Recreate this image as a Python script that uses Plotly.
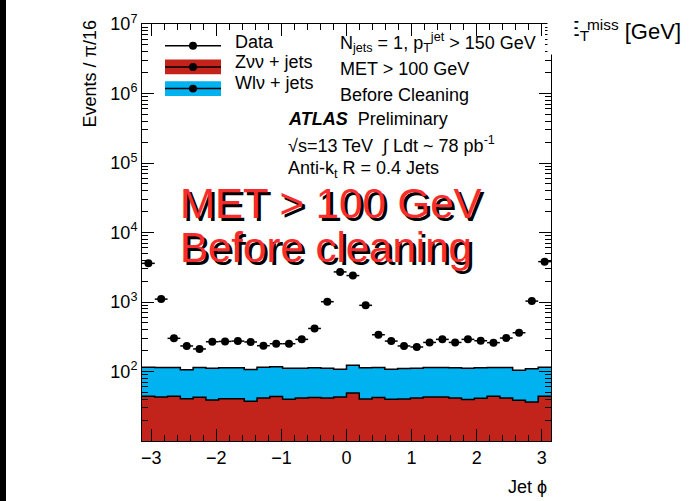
import numpy as np
import plotly.graph_objects as go

# ---------------- data ----------------
n_bins = 32
data_counts = [3600, 1100, 300, 233, 211, 268, 271, 274, 266, 235, 251, 251, 290, 416,
               1010, 2710, 2400, 896, 338, 274, 233, 225, 262, 290, 262, 290, 277, 260,
               303, 361, 1030, 3810]
znn_jets = [43.9, 43.0, 43.9, 40.7, 42.5, 38.9, 40.7, 40.7, 37.3, 41.6, 43.5, 39.8, 41.6,
            42.1, 41.6, 43.0, 49.0, 40.3, 42.1, 39.8, 40.3, 41.6, 43.0, 43.0, 41.6, 39.4,
            41.1, 43.9, 41.6, 38.5, 36.5, 43.9]
wlnu_jets = [71.4, 71.0, 70.1, 64.9, 71.5, 72.7, 72.1, 72.1, 69.5, 73.7, 73.1, 71.8, 70.0,
             70.7, 70.0, 65.0, 74.2, 72.5, 71.9, 68.2, 70.1, 70.0, 71.0, 71.0, 71.2, 72.2,
             71.7, 70.1, 72.4, 66.0, 72.7, 71.4]
y_tick_powers = [2, 3, 4, 5, 6, 7]
x_tick_vals = [-3, -2, -1, 0, 1, 2, 3]

# ---------------- derived ----------------
edges = np.linspace(-np.pi, np.pi, n_bins + 1)
centers = 0.5 * (edges[:-1] + edges[1:])
half_w = (edges[1] - edges[0]) / 2
znn = np.array(znn_jets)
total = znn + np.array(wlnu_jets)
dat = np.array(data_counts, dtype=float)

RED = "#c2241b"
BLUE = "#00b2ef"
FONT = "Liberation Sans, Arial, Helvetica, sans-serif"

fig = go.Figure()
fig.add_trace(go.Scatter(x=edges, y=list(znn) + [znn[-1]], mode="lines", line_shape="hv",
                         line=dict(color="black", width=1.5), fill="tozeroy",
                         fillcolor=RED, showlegend=False, hoverinfo="skip"))
fig.add_trace(go.Scatter(x=edges, y=list(total) + [total[-1]], mode="lines", line_shape="hv",
                         line=dict(color="black", width=1.5), fill="tonexty",
                         fillcolor=BLUE, showlegend=False, hoverinfo="skip"))
fig.add_trace(go.Scatter(x=centers, y=dat, mode="markers",
                         marker=dict(color="black", size=8),
                         error_x=dict(type="constant", value=half_w, color="black",
                                      thickness=1.5, width=0),
                         error_y=dict(type="data", array=np.sqrt(dat), color="black",
                                      thickness=1.5, width=0),
                         showlegend=False))

L, R, T, B = 142, 149, 18, 60
W, H = 700, 501
pw, ph = W - L - R, H - T - B


def px(xp):
    return (xp - L) / pw


def py(yp):
    return (H - B - yp) / ph


axis_font = dict(family=FONT, size=18, color="black")
fig.update_xaxes(range=[-np.pi, np.pi], showline=True, linecolor="black", linewidth=1,
                 mirror="allticks", ticks="inside", ticklen=12, tickcolor="black",
                 tickvals=x_tick_vals, ticktext=[("\u2212" + str(-v)) if v < 0 else str(v) for v in x_tick_vals],
                 minor=dict(ticks="inside", ticklen=6, dtick=0.2, tick0=0, tickcolor="black"),
                 showgrid=False, zeroline=False, tickfont=axis_font)
fig.update_yaxes(type="log", range=[1.0, 7.0], showline=True, linecolor="black", linewidth=1,
                 mirror="allticks", ticks="inside", ticklen=12, tickcolor="black",
                 tickvals=[10 ** p for p in y_tick_powers],
                 ticktext=["10<sup>%d</sup>" % p for p in y_tick_powers],
                 minor=dict(ticks="inside", ticklen=6, dtick="D1", tickcolor="black"),
                 showgrid=False, zeroline=False, tickfont=axis_font)

ann = []
txt = dict(family=FONT, size=18, color="black")
# axis titles
ann.append(dict(x=px(90), y=py(13), xref="paper", yref="paper", text="Events / \u03c0/16",
                textangle=-90, xanchor="center", yanchor="top", showarrow=False, font=txt))
ann.append(dict(x=px(549), y=py(488), xref="paper", yref="paper", text="Jet \u03d5",
                xanchor="right", yanchor="middle", showarrow=False, font=txt))
# legend texts
for label, yy in [("Data", 36), ("Z\u03bd\u03bd + jets", 57), ("Wl\u03bd + jets", 78)]:
    ann.append(dict(x=px(233), y=py(yy), xref="paper", yref="paper", text=label,
                    xanchor="left", yanchor="middle", showarrow=False, font=txt))
# right info block
info = [("N<sub>jets</sub> = 1, p<sub>T</sub><sup>jet</sup> > 150 GeV", 338, 37),
        ("MET > 100 GeV", 338, 64),
        ("Before Cleaning", 338, 90),
        ("<b><i>ATLAS</i></b>  Preliminary", 286, 114),
        ("\u221as=13 TeV  \u222b Ldt ~ 78 pb<sup>-1</sup>", 286, 140),
        ("Anti-k<sub>t</sub> R = 0.4 Jets", 286, 166)]
for t, xx, yy in info:
    ann.append(dict(x=px(xx), y=py(yy), xref="paper", yref="paper", text=t,
                    xanchor="left", yanchor="middle", showarrow=False, font=txt))
# big red overlay text with shadow
for t, yy in [("MET > 100 GeV", 200), ("Before cleaning", 245)]:
    ann.append(dict(x=px(178), y=py(yy), xref="paper", yref="paper", text=t,
                    xanchor="left", yanchor="middle", showarrow=False, xshift=3, yshift=-3,
                    font=dict(family=FONT, size=42, color="black")))
    ann.append(dict(x=px(178), y=py(yy), xref="paper", yref="paper", text=t,
                    xanchor="left", yanchor="middle", showarrow=False,
                    font=dict(family=FONT, size=42, color="#f82c2c")))
# partial E_T^miss label at top right
big = dict(family=FONT, size=22, color="black")
ann.append(dict(x=px(592), y=py(24), xref="paper", yref="paper", text="E<sub>T</sub>",
                xanchor="right", yanchor="middle", showarrow=False, font=big))
ann.append(dict(x=px(561), y=py(24), xref="paper", yref="paper", text=" ",
                xanchor="center", yanchor="middle", showarrow=False, width=24, height=46,
                bgcolor="white", font=big))
ann.append(dict(x=px(585), y=py(24), xref="paper", yref="paper",
                text="<sup>miss</sup> [GeV]",
                xanchor="left", yanchor="middle", showarrow=False, font=big))

shapes = []
# legend graphics
shapes.append(dict(type="rect", xref="paper", yref="paper", x0=px(165), x1=px(221),
                   y0=py(69), y1=py(54), fillcolor=RED, line=dict(width=0)))
shapes.append(dict(type="rect", xref="paper", yref="paper", x0=px(165), x1=px(221),
                   y0=py(91), y1=py(76), fillcolor=BLUE, line=dict(width=0)))
for yy in [40, 61.5, 83.5]:
    shapes.append(dict(type="line", xref="paper", yref="paper", x0=px(165), x1=px(221),
                       y0=py(yy), y1=py(yy), line=dict(color="black", width=1.5)))
    shapes.append(dict(type="circle", xref="paper", yref="paper", x0=px(189), x1=px(197),
                       y0=py(yy + 4), y1=py(yy - 4), fillcolor="black",
                       line=dict(color="black", width=0)))
# slide edge on the left
shapes.append(dict(type="rect", xref="paper", yref="paper", x0=px(-2), x1=px(6),
                   y0=-0.3, y1=1.2, fillcolor="black", line=dict(width=0)))

fig.update_layout(width=W, height=H, margin=dict(l=L, r=R, t=T, b=B),
                  paper_bgcolor="white", plot_bgcolor="white",
                  annotations=ann, shapes=shapes, showlegend=False,
                  font=dict(family=FONT, color="black"))
fig.write_html("out.html")
